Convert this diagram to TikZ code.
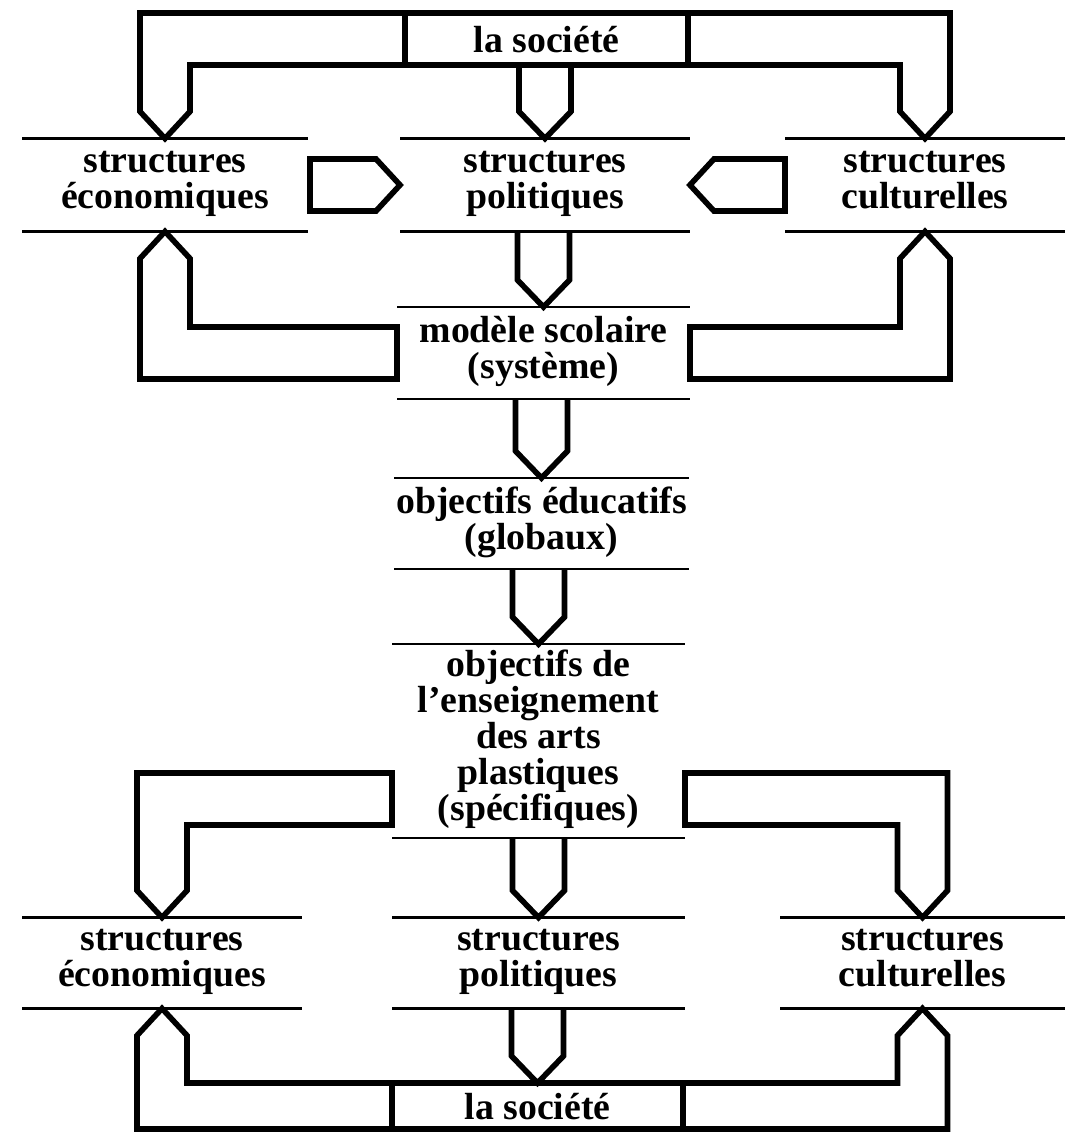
\documentclass[tikz,border=0pt]{standalone}
\usepackage{fontspec}
\setmainfont{Liberation Serif}
\usetikzlibrary{calc}

\begin{document}
\begin{tikzpicture}[x=0.02cm, y=-0.02cm,
    txt/.style={rectangle, inner sep=0pt, outer sep=0pt, align=center,
      font=\fontsize{21.5}{20.5}\selectfont\bfseries},
    box/.style={txt, execute at begin node=\strut, execute at end node=\strut},
    socbox/.style={txt, draw, line width=3.2pt, text depth=0pt},
    sep/.style={line width=1.3pt},
    blk/.style={line width=3.2pt, line join=miter}]
    \useasboundingbox (0,0) rectangle (1065,1134);

    % Society at the top
    \node[socbox, minimum width=5.66cm, minimum height=1.04cm] (soc1) at (546.5,39) {la société};

    % First row of structures
    \node[box, minimum width=5.72cm, minimum height=1.86cm] (eco1) at (165,185) {structures\\économiques};
    \node[box, minimum width=5.8cm, minimum height=1.86cm] (pol1) at (545,185) {structures\\politiques};
    \node[box, minimum width=5.6cm, minimum height=1.86cm] (cul1) at (925,185) {structures\\culturelles};

    % Middle column
    \node[box, minimum width=5.86cm, minimum height=1.84cm] (modele) at (543.5,353) {modèle scolaire\\(système)};
    \node[box, minimum width=5.9cm, minimum height=1.82cm] (obj1) at (541.5,523.5) {objectifs éducatifs\\(globaux)};
    \node[box, minimum width=5.86cm, minimum height=3.88cm] (obj2) at (538.5,741) {objectifs de\\l'enseignement\\des arts\\plastiques\\(spécifiques)};

    % Second row of structures
    \node[box, minimum width=5.6cm, minimum height=1.82cm] (eco2) at (162,963) {structures\\économiques};
    \node[box, minimum width=5.86cm, minimum height=1.82cm] (pol2) at (538.5,963) {structures\\politiques};
    \node[box, minimum width=5.7cm, minimum height=1.82cm] (cul2) at (922.5,963) {structures\\culturelles};

    % Society at the bottom
    \node[socbox, minimum width=5.82cm, minimum height=0.92cm] (soc2) at (537.5,1106) {la société};

    % Rules above and below each text
    \foreach \n in {eco1,pol1,cul1,modele,obj1,obj2,eco2,pol2,cul2} {
        \draw[sep] (\n.north west) -- (\n.north east);
        \draw[sep] (\n.south west) -- (\n.south east);
    }

    % Frame from the top society to the structures
    \draw[blk] (soc1.north west) -| ($(eco1.north)+(-25,-27)$) -- (eco1.north) -- ($(eco1.north)+(25,-27)$) |- (soc1.south west);
    \draw[blk] (soc1.north east) -| ($(cul1.north)+(25,-27)$) -- (cul1.north) -- ($(cul1.north)+(-25,-27)$) |- (soc1.south east);
    \draw[blk] ($(soc1.south -| pol1.north)+(-26,0)$) -- ($(pol1.north)+(-26,-27)$) -- (pol1.north) -- ($(pol1.north)+(26,-27)$) -- ($(soc1.south -| pol1.north)+(26,0)$);

    % Sideways arrows into politiques
    \draw[blk] ($(eco1.east)+(2,-26)$) -- ($(pol1.west)+(-24,-26)$) -- (pol1.west) -- ($(pol1.west)+(-24,26)$) -- ($(eco1.east)+(2,26)$) -- cycle;
    \draw[blk] ($(cul1.west)+(0,-26)$) -- ($(pol1.east)+(24,-26)$) -- (pol1.east) -- ($(pol1.east)+(24,26)$) -- ($(cul1.west)+(0,26)$) -- cycle;

    % Down the middle column
    \foreach \s/\t in {pol1/modele, modele/obj1, obj1/obj2, obj2/pol2, pol2/soc2}
        \draw[blk] ($(\s.south -| \t.north)+(-26,0)$) -- ($(\t.north)+(-26,-27)$) -- (\t.north) -- ($(\t.north)+(26,-27)$) -- ($(\s.south -| \t.north)+(26,0)$);

    % Back up from the school model
    \draw[blk] (eco1.south) -- ($(eco1.south)+(25,27)$) |- ($(modele.west)+(0,-26)$) -- ($(modele.west)+(0,26)$) -| ($(eco1.south)+(-25,27)$) -- cycle;
    \draw[blk] (cul1.south) -- ($(cul1.south)+(-25,27)$) |- ($(modele.east)+(0,-26)$) -- ($(modele.east)+(0,26)$) -| ($(cul1.south)+(25,27)$) -- cycle;

    % From the art objectives out to the sides
    \draw[blk] (eco2.north) -- ($(eco2.north)+(-25,-27)$) |- ($(obj2.south west)+(0,-65)$) -- ($(obj2.south west)+(0,-13)$) -| ($(eco2.north)+(25,-27)$) -- cycle;
    \draw[blk] (cul2.north) -- ($(cul2.north)+(25,-27)$) |- ($(obj2.south east)+(0,-65)$) -- ($(obj2.south east)+(0,-13)$) -| ($(cul2.north)+(-25,-27)$) -- cycle;

    % Up from the bottom society
    \draw[blk] (soc2.north west) -| ($(eco2.south)+(25,27)$) -- (eco2.south) -- ($(eco2.south)+(-25,27)$) |- (soc2.south west);
    \draw[blk] (soc2.north east) -| ($(cul2.south)+(-25,27)$) -- (cul2.south) -- ($(cul2.south)+(25,27)$) |- (soc2.south east);
\end{tikzpicture}
\end{document}
